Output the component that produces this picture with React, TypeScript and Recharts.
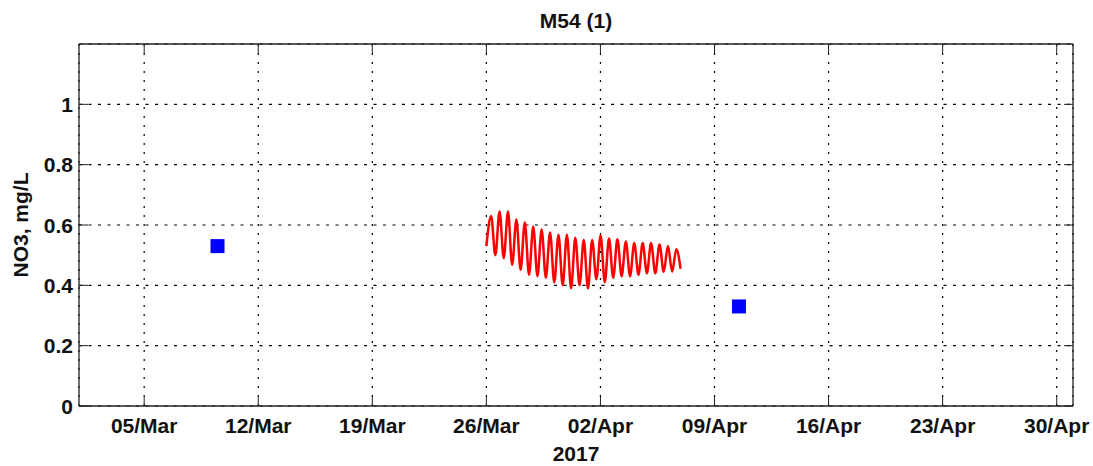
import React from 'react';
import { ComposedChart, Line, Scatter, XAxis, YAxis, CartesianGrid, Label } from 'recharts';

// time helpers (UTC so the page timezone does not matter)
const HOUR = 3600 * 1000;
const day = (m: number, d: number, h = 0) => Date.UTC(2017, m - 1, d, h);

// x axis: 01/Mar .. 01/May, weekly ticks
const xDomain = [day(3, 1), day(5, 1)];
const xTicks = [day(3, 5), day(3, 12), day(3, 19), day(3, 26), day(4, 2), day(4, 9), day(4, 16), day(4, 23), day(4, 30)];
const xTickLabels = ['05/Mar', '12/Mar', '19/Mar', '26/Mar', '02/Apr', '09/Apr', '16/Apr', '23/Apr', '30/Apr'];

const yTicks = [0, 0.2, 0.4, 0.6, 0.8, 1];

// model series (red) - hours after 26/Mar 00:00 and NO3 values
const modelStart = day(3, 26);
const modelHours = [
  0, 7, 13.2, 19.4, 25.6, 31.8, 38, 44.2, 50.4, 56.6, 62.8, 69, 75.2, 81.4, 87.6, 93.8,
  100, 106.2, 112.4, 118.6, 124.8, 131, 137.2, 143.4, 149.6, 155.8, 162, 168.2, 174.4,
  180.6, 186.8, 193, 199.2, 205.4, 211.6, 217.8, 224, 230.2, 236.4, 242.6, 248.8, 255,
  261.2, 267.4, 273.6, 279.8, 286,
];
const modelValues = [
  0.53, 0.63, 0.5, 0.645, 0.49, 0.645, 0.468, 0.618, 0.452, 0.608, 0.435, 0.595, 0.43, 0.585, 0.425, 0.575,
  0.41, 0.568, 0.4, 0.568, 0.39, 0.558, 0.4, 0.55, 0.39, 0.55, 0.42, 0.565, 0.41,
  0.555, 0.425, 0.553, 0.43, 0.545, 0.43, 0.54, 0.435, 0.54, 0.44, 0.54, 0.44, 0.535,
  0.445, 0.53, 0.445, 0.52, 0.455,
];

// observations (blue squares)
const obsTimes = [day(3, 9, 12), day(4, 10, 12)];
const obsValues = [0.53, 0.33];

const modelData = modelHours.map((h, i) => ({ t: modelStart + h * HOUR, v: modelValues[i] }));
const obsData = obsTimes.map((t, i) => ({ t, v: obsValues[i] }));

const font: React.CSSProperties = {
  fontFamily: '"Liberation Sans", Arial, Helvetica, sans-serif',
  fontWeight: 'bold',
  fontSize: 21,
  fill: '#111',
};
const axisColor = '#222';
const TICK = 9;

const BottomTick = ({ x, y, payload }: any) => (
  <g>
    <line x1={x} y1={y} x2={x} y2={y - TICK} stroke={axisColor} />
    <text x={x} y={y + 27} textAnchor="middle" style={font}>
      {xTickLabels[xTicks.indexOf(payload.value)]}
    </text>
  </g>
);
const TopTick = ({ x, y }: any) => <line x1={x} y1={y} x2={x} y2={y + TICK} stroke={axisColor} />;
const LeftTick = ({ x, y, payload }: any) => (
  <g>
    <line x1={x} y1={y} x2={x + TICK} y2={y} stroke={axisColor} />
    <text x={x - 6} y={y + 7.5} textAnchor="end" style={font}>
      {String(payload.value)}
    </text>
  </g>
);
const RightTick = ({ x, y }: any) => <line x1={x} y1={y} x2={x - TICK} y2={y} stroke={axisColor} />;

const Square = (props: any) => <rect x={props.cx - 7} y={props.cy - 7} width={14} height={14} fill="#0000ff" />;

export default function App() {
  return (
    <div style={{ position: 'absolute', left: 0, top: 0, background: '#fff' }}>
      <ComposedChart width={1093} height={466} margin={{ top: 0, right: 0, bottom: 0, left: 0 }}>
        <CartesianGrid horizontal={false} stroke="#000" strokeWidth={1.2} strokeDasharray="2 7" />
        <CartesianGrid vertical={false} stroke="#000" strokeWidth={1.2} strokeDasharray="3 6.5" />
        <XAxis
          dataKey="t"
          type="number"
          domain={xDomain}
          ticks={xTicks}
          interval={0}
          allowDataOverflow
          height={60}
          tickSize={0}
          tickMargin={0}
          tickLine={false}
          tick={<BottomTick />}
          axisLine={{ stroke: axisColor, strokeWidth: 1.3 }}
        >
          <Label
            content={({ viewBox }: any) => (
              <text x={viewBox.x + viewBox.width / 2} y={viewBox.y + 55} textAnchor="middle" style={font}>
                2017
              </text>
            )}
          />
        </XAxis>
        <XAxis
          xAxisId="top"
          orientation="top"
          dataKey="t"
          type="number"
          domain={xDomain}
          ticks={xTicks}
          interval={0}
          allowDataOverflow
          height={44}
          tickSize={0}
          tickMargin={0}
          tickLine={false}
          tick={<TopTick />}
          axisLine={{ stroke: axisColor, strokeWidth: 1.3 }}
        >
          <Label
            content={({ viewBox }: any) => (
              <text x={viewBox.x + viewBox.width / 2} y={viewBox.y + 28} textAnchor="middle" style={font}>
                M54 (1)
              </text>
            )}
          />
        </XAxis>
        <YAxis
          dataKey="v"
          type="number"
          domain={[0, 1.2]}
          ticks={yTicks}
          interval={0}
          allowDataOverflow
          width={79}
          tickSize={0}
          tickMargin={0}
          tickLine={false}
          tick={<LeftTick />}
          axisLine={{ stroke: axisColor, strokeWidth: 1.3 }}
        >
          <Label
            content={({ viewBox }: any) => (
              <text
                transform={`translate(${viewBox.x + 28}, ${viewBox.y + viewBox.height / 2}) rotate(-90)`}
                textAnchor="middle"
                style={font}
              >
                NO3, mg/L
              </text>
            )}
          />
        </YAxis>
        <YAxis
          yAxisId="right"
          orientation="right"
          dataKey="v"
          type="number"
          domain={[0, 1.2]}
          ticks={yTicks}
          interval={0}
          allowDataOverflow
          width={20}
          tickSize={0}
          tickMargin={0}
          tickLine={false}
          tick={<RightTick />}
          axisLine={{ stroke: axisColor, strokeWidth: 1.3 }}
        />
        <Line
          data={modelData}
          dataKey="v"
          type="monotone"
          stroke="#ff0000"
          strokeWidth={2.5}
          dot={false}
          isAnimationActive={false}
        />
        <Scatter data={obsData} dataKey="v" shape={<Square />} isAnimationActive={false} />
      </ComposedChart>
    </div>
  );
}
